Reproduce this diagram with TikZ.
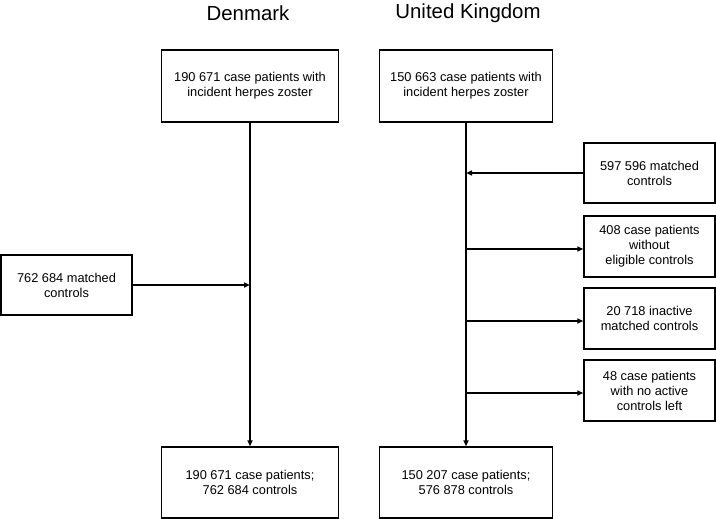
\documentclass[tikz,border=0pt]{standalone}
\usepackage{fontspec}
\setmainfont{Liberation Sans}
\usetikzlibrary{arrows.meta}
\begin{document}
\begin{tikzpicture}[x=1pt,y=-1pt,
  box/.style={draw,line width=1.4pt,align=center,inner sep=0pt,
    font=\fontsize{12.8}{15}\selectfont},
  title/.style={font=\fontsize{20.4}{22}\selectfont},
  flow/.style={line width=2pt,-{Triangle[length=6pt,width=5pt]}},
  low/.style={yshift=-2.5pt}]
\useasboundingbox (0,0) rectangle (716,519);
\node[title] (tdk) at (248,13) {Denmark};
\node[title] (tuk) at (468,13) {United Kingdom};
\node[box,minimum width=177pt,minimum height=72pt] (dk1) at (250,86) {190 671 case patients with\\incident herpes zoster};
\node[box,minimum width=173pt,minimum height=72pt] (uk1) at (466,86) {150 663 case patients with\\incident herpes zoster};
\node[box,minimum width=177pt,minimum height=71pt] (dk2) at (250,482.5) {190 671 case patients;\\762 684 controls};
\node[box,minimum width=173pt,minimum height=71pt] (uk2) at (466,482.5) {150 207 case patients;\\576 878 controls};
\node[box,minimum width=131pt,minimum height=60pt] (l1) at (66.5,285) {762 684 matched\\controls};
\node[box,minimum width=131pt,minimum height=60pt] (r1) at (649.5,173) {597 596 matched\\controls};
\node[box,minimum width=131pt,minimum height=61pt] (r2) at (649.5,246.5) {408 case patients\\without\\eligible controls};
\node[box,minimum width=131pt,minimum height=61pt] (r3) at (649.5,318.5) {20 718 inactive\\matched controls};
\node[box,minimum width=131pt,minimum height=61pt] (r4) at (649.5,390.5) {48 case patients\\with no active\\controls left};
\draw[flow] (dk1.south) -- (dk2.north);
\draw[flow] (uk1.south) -- (uk2.north);
\draw[flow] (l1.east) -- (l1.east -| dk1.south);
\draw[flow] (r1.west) -- (r1.west -| uk1.south);
\draw[flow] ([low]r2.west -| uk1.south) -- ([low]r2.west);
\draw[flow] ([low]r3.west -| uk1.south) -- ([low]r3.west);
\draw[flow] ([low]r4.west -| uk1.south) -- ([low]r4.west);
\end{tikzpicture}
\end{document}
